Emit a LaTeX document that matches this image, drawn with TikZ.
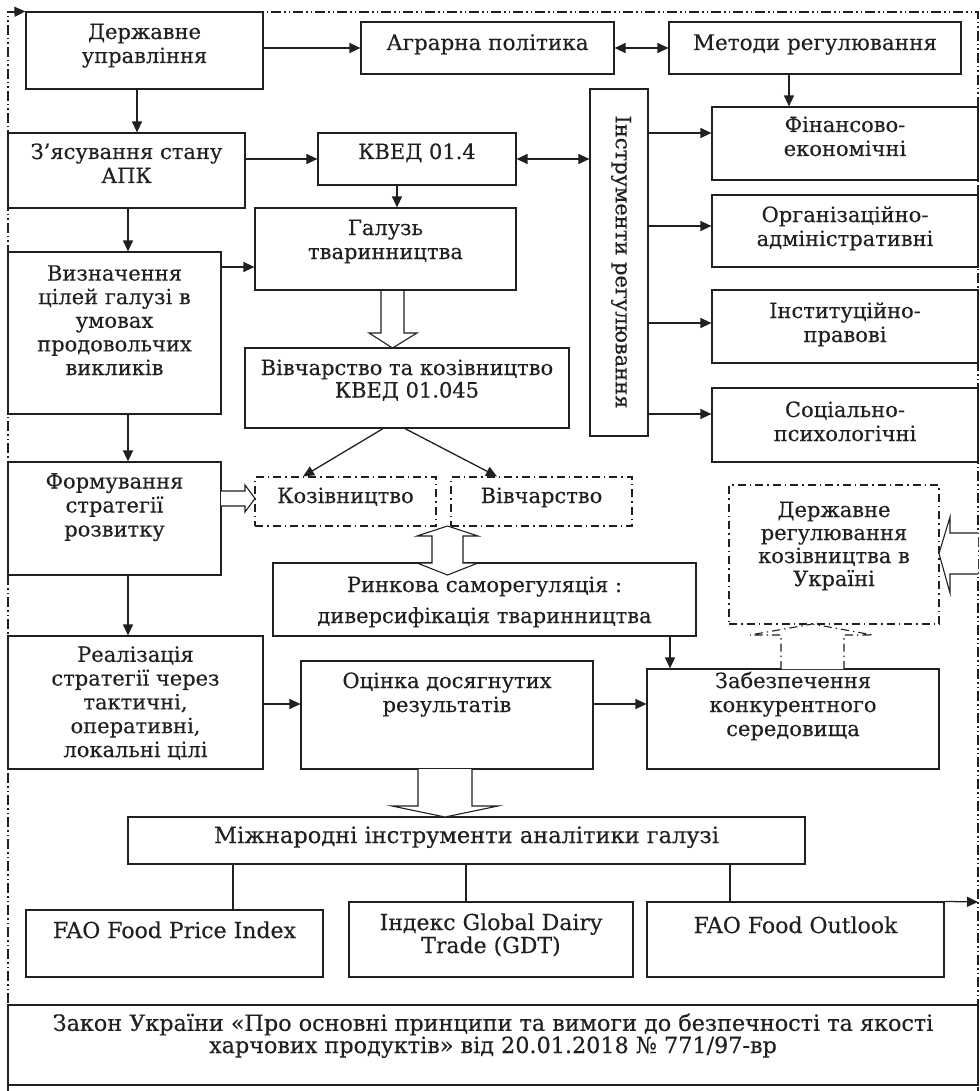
\documentclass[tikz,border=0pt]{standalone}
\usepackage{fontspec}
\setmainfont[FakeBold=0.3]{DejaVu Serif}
\usetikzlibrary{arrows.meta,fit}
\definecolor{ink}{HTML}{202020}
\begin{document}
\begin{tikzpicture}[x=1pt,y=-1pt,
  box/.style={draw=ink, line width=1.2pt, inner sep=0pt},
  dbox/.style={draw=ink, line width=1.1pt, inner sep=0pt, dash pattern=on 8pt off 4pt on 1.5pt off 4pt},
  txt/.style={font=\fontsize{21}{24}\selectfont, align=center, inner sep=0pt, text=ink, anchor=base},
  arr/.style={-{Triangle[length=11pt,width=10pt]}, line width=1.3pt, draw=ink},
  darr/.style={{Triangle[length=11pt,width=10pt]}-{Triangle[length=11pt,width=10pt]}, line width=1.3pt, draw=ink},
  plain/.style={line width=1.2pt, draw=ink},
  hollow/.style={draw=ink, fill=white, line width=1.1pt, line join=miter},
  dhollow/.style={draw=ink, fill=white, line width=1.1pt, dash pattern=on 8pt off 4pt on 1.5pt off 4pt},
  frame/.style={draw=ink, line width=1.1pt, dash pattern=on 10pt off 3pt on 1.5pt off 3pt on 1.5pt off 3pt}]
\useasboundingbox (0,0) rectangle (979,1091);
\fill[white] (0,0) rectangle (979,1091);
% frame
\draw[frame] (8,1091) -- (8,12) -- (978,12) -- (978,1091);
\coordinate (tl) at (8,12);
\coordinate (fr) at (978,902);
% boxes
\node[box, fit={(26,12) (263,89)}] (dz) {};
\node[box, fit={(361,22) (614,74)}] (ag) {};
\node[box, fit={(669,22) (961,74)}] (mr) {};
\node[box, fit={(712,107) (978,180)}] (fin) {};
\node[box, fit={(712,195) (978,267)}] (org) {};
\node[box, fit={(712,290) (978,363)}] (ins) {};
\node[box, fit={(712,388) (978,462)}] (soc) {};
\node[box, fit={(590,89) (648,436)}] (inst) {};
\node[box, fit={(8,133) (245,208)}] (zj) {};
\node[box, fit={(318,133) (516,185)}] (kv) {};
\node[box, fit={(255,208) (516,290)}] (gal) {};
\node[box, fit={(8,252) (221,414)}] (viz) {};
\node[box, fit={(245,348) (569,428)}] (viv) {};
\node[dbox, fit={(255,477) (436,526)}] (koz) {};
\node[dbox, fit={(451,477) (632,526)}] (vvch) {};
\node[box, fit={(8,462) (221,575)}] (form) {};
\node[box, fit={(273,563) (696,636)}] (rin) {};
\node[dbox, fit={(729,485) (939,624)}] (dr) {};
\node[box, fit={(647,669) (939,769)}] (zab) {};
\node[box, fit={(8,636) (263,769)}] (real) {};
\node[box, fit={(301,661) (593,769)}] (ots) {};
\node[box, fit={(128,817) (805,864)}] (mzh) {};
\node[box, fit={(26,910) (323,977)}] (fpi) {};
\node[box, fit={(349,902) (633,977)}] (gdt) {};
\node[box, fit={(647,902) (944,977)}] (fo) {};
\node[box, fit={(8,1005) (978,1085)}] (law) {};
% texts (anchor = baseline of the last line)
\node[txt] (dzt) at (144.5,63) {Державне\\управління};
\node[txt, font=\fontsize{21.5}{24}\selectfont] (agt) at (487.5,50) {Аграрна політика};
\node[txt, font=\fontsize{21.5}{24}\selectfont] (mrt) at (815,50) {Методи регулювання};
\node[txt] (fint) at (845,156) {Фінансово-\\економічні};
\node[txt] (orgt) at (845,246) {Організаційно-\\адміністративні};
\node[txt] (inst2) at (845,342) {Інституційно-\\правові};
\node[txt] (soct) at (845,441) {Соціально-\\психологічні};
\node[txt, anchor=center, rotate=-90] (instt) at (621,262) {Інструменти регулювання};
\node[txt] (zjt) at (126.5,183) {З’ясування стану\\АПК};
\node[txt] (kvt) at (417,159) {КВЕД 01.4};
\node[txt] (galt) at (385.5,259) {Галузь\\тваринництва};
\node[txt, font=\fontsize{21}{23.6}\selectfont] (vizt) at (114.5,375) {Визначення\\цілей галузі в\\умовах\\продовольчих\\викликів};
\node[txt, font=\fontsize{21}{22.5}\selectfont] (vivt) at (407,397.5) {Вівчарство та козівництво\\КВЕД 01.045};
\node[txt] (kozt) at (345.5,503) {Козівництво};
\node[txt] (vvcht) at (541.5,503) {Вівчарство};
\node[txt] (formt) at (114.5,536.5) {Формування\\стратегії\\розвитку};
\node[txt, font=\fontsize{21}{31}\selectfont] (rint) at (484.5,623) {Ринкова саморегуляція :\\диверсифікація тваринництва};
\node[txt, font=\fontsize{21}{23}\selectfont] (drt) at (834,586) {Державне\\регулювання\\козівництва в\\Україні};
\node[txt] (zabt) at (793,736) {Забезпечення\\конкурентного\\середовища};
\node[txt, font=\fontsize{21}{23.8}\selectfont] (realt) at (135.5,757) {Реалізація\\стратегії через\\тактичні,\\оперативні,\\локальні цілі};
\node[txt] (otst) at (447,712) {Оцінка досягнутих\\результатів};
\node[txt, font=\fontsize{22.5}{24}\selectfont] (mzht) at (466.5,843) {Міжнародні інструменти аналітики галузі};
\node[txt, font=\fontsize{22}{24}\selectfont] (fpit) at (174.5,938) {FAO Food Price Index};
\node[txt, font=\fontsize{22}{23}\selectfont] (gdtt) at (491,953) {Індекс Global Dairy\\Trade (GDT)};
\node[txt, font=\fontsize{22}{24}\selectfont] (fot) at (795.5,933) {FAO Food Outlook};
\node[txt, font=\fontsize{22.3}{21}\selectfont] (lawt) at (493,1053) {Закон України «Про основні принципи та вимоги до безпечності та якості\\харчових продуктів» від 20.01.2018 № 771/97-вр};
% connectors
\draw[arr] (tl) -- (dz.north west);
\draw[arr] (dz.east |- ag.west) -- (ag.west);
\draw[darr] (ag.east) -- (mr.west);
\draw[arr] (789,0 |- mr.south) -- (789,0 |- fin.north);
\draw[arr] (137,0 |- dz.south) -- (137,0 |- zj.north);
\draw[arr] (zj.east |- kv.west) -- (kv.west);
\draw[darr] (kv.east) -- (kv.east -| inst.west);
\draw[arr] (397,0 |- kv.south) -- (397,0 |- gal.north);
\draw[arr] (128,0 |- zj.south) -- (128,0 |- viz.north);
\draw[arr] (0,267 -| viz.east) -- (0,267 -| gal.west);
\draw[arr] (0,133 -| inst.east) -- (0,133 -| fin.west);
\draw[arr] (0,226 -| inst.east) -- (0,226 -| org.west);
\draw[arr] (0,323 -| inst.east) -- (0,323 -| ins.west);
\draw[arr] (0,414 -| inst.east) -- (0,414 -| soc.west);
\draw[arr] (383,0 |- viv.south) -- (303,0 |- koz.north);
\draw[arr] (405,0 |- viv.south) -- (497,0 |- vvch.north);
\draw[arr] (128,0 |- viz.south) -- (128,0 |- form.north);
\draw[arr] (128,0 |- form.south) -- (128,0 |- real.north);
\draw[arr] (670,0 |- rin.south) -- (670,0 |- zab.north);
\draw[arr] (0,704 -| real.east) -- (0,704 -| ots.west);
\draw[arr] (0,704 -| ots.east) -- (0,704 -| zab.west);
\draw[plain] (233,0 |- mzh.south) -- (233,0 |- fpi.north);
\draw[plain] (466,0 |- mzh.south) -- (466,0 |- gdt.north);
\draw[plain] (730,0 |- mzh.south) -- (730,0 |- fo.north);
\draw[arr] (fo.north east) -- (fr);
% hollow arrows
\draw[hollow] (381,291) -- (381,333) -- (369,333) -- (392.5,348) -- (417,333) -- (404,333) -- (404,291);
\draw[hollow] (221,491) -- (245,491) -- (245,485) -- (255,498.5) -- (245,512) -- (245,506) -- (221,506);
\draw[hollow] (447.5,526) -- (478,536) -- (463,536) -- (463,563) -- (478,563) -- (447.5,575) -- (417,563) -- (432,563) -- (432,536) -- (417,536) -- cycle;
\draw[hollow] (418,769) -- (418,806) -- (392,806) -- (445,817) -- (498,806) -- (472,806) -- (472,769);
\draw[hollow] (978,533) -- (950,533) -- (950,517) -- (939,553.5) -- (950,593) -- (950,574) -- (978,574);
\draw[dhollow] (781,669) -- (781,635) -- (750,635) -- (812.5,624) -- (873,635) -- (844,635) -- (844,669);
\end{tikzpicture}
\end{document}
